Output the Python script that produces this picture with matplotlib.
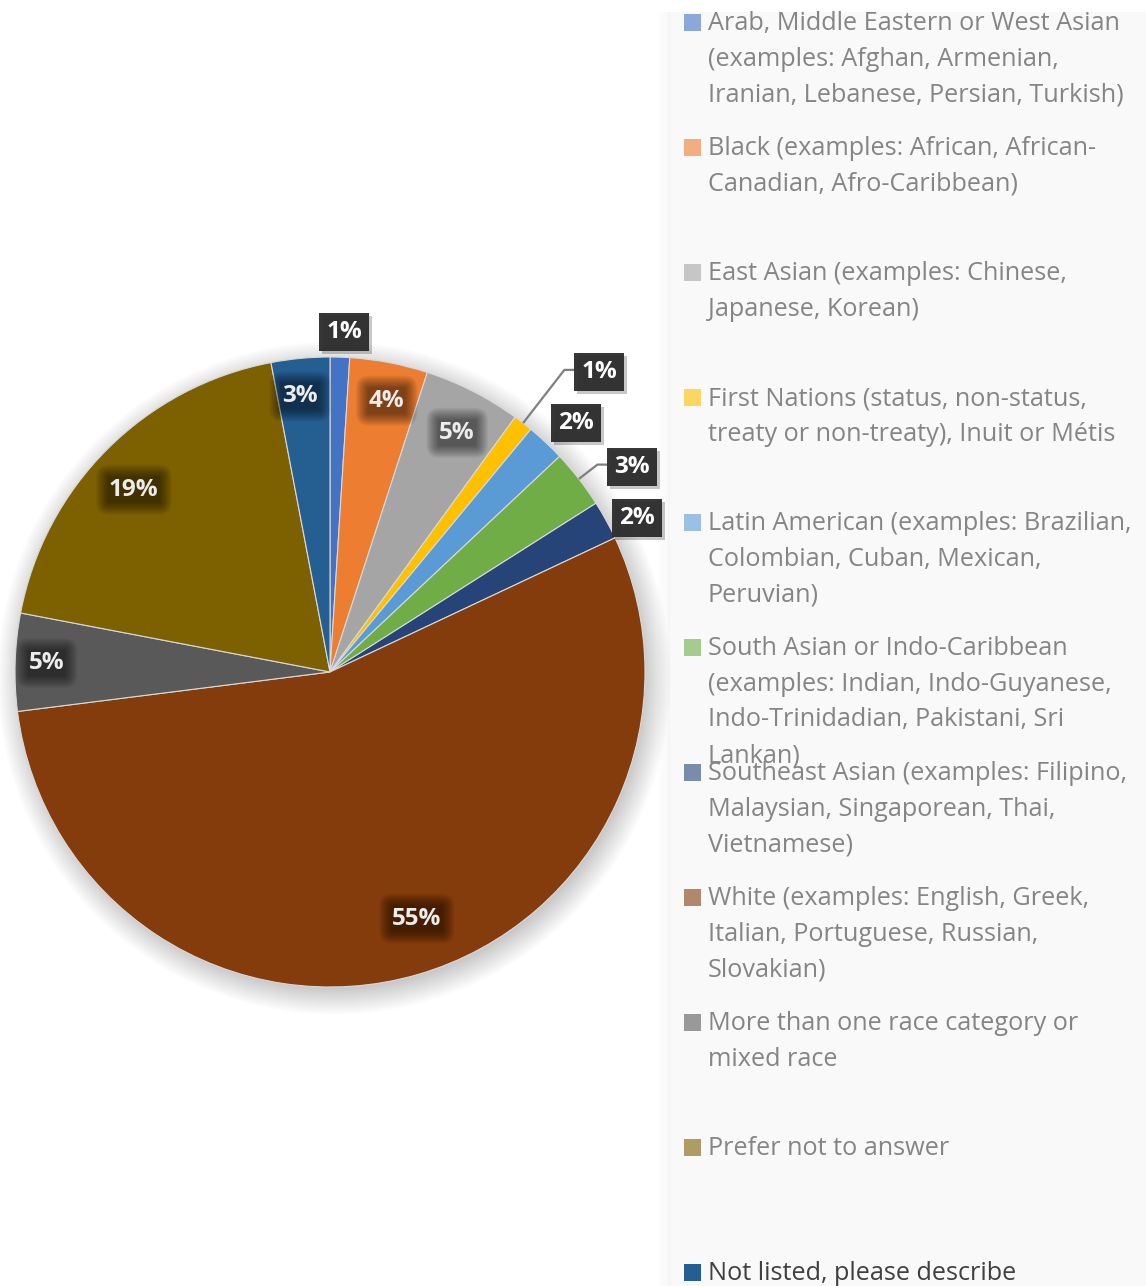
import matplotlib
matplotlib.use("Agg")
import numpy as np
import matplotlib.pyplot as plt
from matplotlib.patches import Rectangle, Circle, FancyBboxPatch

plt.rcParams['font.family'] = ['Open Sans', 'DejaVu Sans']

# survey data
categories = [
    "Arab, Middle Eastern or West Asian\n(examples: Afghan, Armenian,\nIranian, Lebanese, Persian, Turkish)",
    "Black (examples: African, African-\nCanadian, Afro-Caribbean)",
    "East Asian (examples: Chinese,\nJapanese, Korean)",
    "First Nations (status, non-status,\ntreaty or non-treaty), Inuit or Métis",
    "Latin American (examples: Brazilian,\nColombian, Cuban, Mexican,\nPeruvian)",
    "South Asian or Indo-Caribbean\n(examples: Indian, Indo-Guyanese,\nIndo-Trinidadian, Pakistani, Sri\nLankan)",
    "Southeast Asian (examples: Filipino,\nMalaysian, Singaporean, Thai,\nVietnamese)",
    "White (examples: English, Greek,\nItalian, Portuguese, Russian,\nSlovakian)",
    "More than one race category or\nmixed race",
    "Prefer not to answer",
    "Not listed, please describe",
]
percent = [1, 4, 5, 1, 2, 3, 2, 55, 5, 19, 3]
colors = ['#4472C4', '#ED7D31', '#A5A5A5', '#FFC000', '#5B9BD5', '#70AD47',
          '#264478', '#843C0C', '#595959', '#7D6000', '#255E91']

# label layout: radius factor, angle nudge (deg clockwise), outside box?
lab_r = [1.08, 0.88, 0.86, 1.28, 1.11, 1.16, 1.09, 0.83, 0.90, 0.85, 0.88]
lab_da = [0.6, 1.0, 1.0, 4.1, 1.5, 3.6, 2.2, -3.2, 0.0, -2.1, -0.8]
outside = [True, False, False, True, True, True, True, False, False, False, False]
leader = [False, False, False, True, False, True, False, False, False, False, False]

W, H = 1146, 1286
fig = plt.figure(figsize=(W / 100, H / 100), dpi=100)
ax = fig.add_axes([0, 0, 1, 1])
ax.set_xlim(0, W)
ax.set_ylim(0, H)

cx, cy, R = 330, H - 672, 315

# legend panel
ax.add_patch(Rectangle((668, 0), W - 668, H - 12, fc='#f9f9f9', ec='none', zorder=0))
for k in range(6):
    ax.add_patch(Rectangle((668 - k * 2, 0), 2, H - 12, fc='#f2f2f2',
                           ec='none', alpha=0.5 - k * 0.08, zorder=0))

# soft shadow under the pie
for k in range(18):
    ax.add_patch(Circle((cx + 4, cy - 6), R - 4 + k * 1.5, fc='#000000',
                        ec='none', alpha=0.011, zorder=1))

wedges, _ = ax.pie(percent, colors=colors, startangle=90, counterclock=False,
                   center=(cx, cy), radius=R,
                   wedgeprops=dict(linewidth=0.8, edgecolor='#d9d9d9'))
for w in wedges:
    w.set_zorder(2)
ax.set_xlim(0, W)
ax.set_ylim(0, H)
ax.set_aspect('auto')
ax.axis('off')

renderer = fig.canvas.get_renderer()
inv = ax.transData.inverted()

for i, w in enumerate(wedges):
    mid = (w.theta1 + w.theta2) / 2
    ang = np.deg2rad(mid - lab_da[i])
    x = cx + lab_r[i] * R * np.cos(ang)
    y = cy + lab_r[i] * R * np.sin(ang)
    txt = f"{percent[i]}%"
    t = ax.text(x, y, txt, fontsize=17.5, fontweight='bold',
                color='white' if outside[i] else '#ececec',
                ha='center', va='center', zorder=6)
    bb = t.get_window_extent(renderer)
    (x0, y0), (x1, y1) = inv.transform([[bb.x0, bb.y0], [bb.x1, bb.y1]])
    tw, th = x1 - x0, y1 - y0
    if outside[i]:
        bw, bh = tw + 14, th + 14
        # drop shadow then the box itself
        ax.add_patch(Rectangle((x - bw / 2 + 3, y - bh / 2 - 3), bw, bh,
                               fc='#000000', ec='none', alpha=0.22, zorder=4))
        ax.add_patch(Rectangle((x - bw / 2, y - bh / 2), bw, bh,
                               fc='#2b2b2b', ec='none', alpha=0.95, zorder=5))
        if leader[i]:
            a0 = np.deg2rad(mid)
            sx, sy = cx + R * np.cos(a0), cy + R * np.sin(a0)
            bx = x - bw / 2
            ax.plot([sx, bx - 10, bx], [sy, y + 2, y + 2], color='#7f7f7f',
                    lw=1.6, zorder=3, solid_capstyle='butt')
    else:
        # blurred dark patch behind the value
        for grow in np.arange(13, 0, -1.0):
            bw, bh = tw + 2 * grow, th + 2 * grow
            ax.add_patch(FancyBboxPatch((x - bw / 2, y - bh / 2), bw, bh,
                                        boxstyle=f'round,pad=0,rounding_size={grow}',
                                        fc='#000000', ec='none', alpha=0.045, zorder=4))

# legend entries
for i, lab in enumerate(categories):
    base = 30 + i * 125
    faded = i != len(categories) - 1
    ax.add_patch(Rectangle((684, H - base - 1), 17, 17, fc=colors[i], ec='none',
                           alpha=0.6 if faded else 1.0, zorder=3))
    for k, line in enumerate(lab.split('\n')):
        ax.text(708, H - (base + k * 35.7), line, fontsize=18.2,
                color='#858585' if faded else '#404040',
                ha='left', va='baseline', zorder=3)

fig.savefig('out.png', dpi=100, facecolor='white')
